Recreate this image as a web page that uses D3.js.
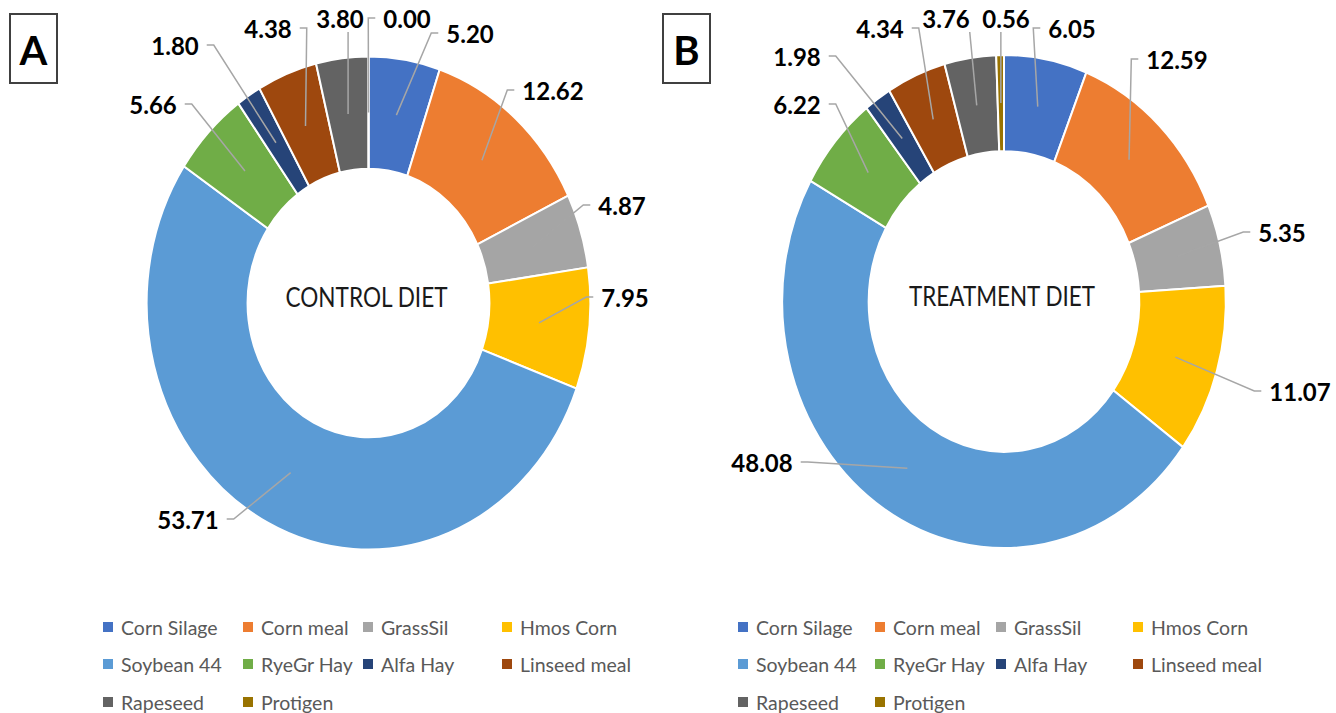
<!DOCTYPE html>
<html>
<head>
<meta charset="utf-8">
<script src="https://cdn.jsdelivr.net/npm/d3@7"></script>
<style>
  body { margin: 0; background: #fff; }
  svg { display: block; }
  text { font-family: Lato, "Open Sans", sans-serif; }
</style>
</head>
<body>
<svg id="chart" width="1336" height="713"></svg>
<script>
// ingredients, in the order excel draws them (clockwise from 12 o'clock)
var categories = ['Corn Silage', 'Corn meal', 'GrassSil', 'Hmos Corn', 'Soybean 44',
    'RyeGr Hay', 'Alfa Hay', 'Linseed meal', 'Rapeseed', 'Protigen'];
var controlValues = [5.20, 12.62, 4.87, 7.95, 53.71, 5.66, 1.80, 4.38, 3.80, 0.00];
var treatmentValues = [6.05, 12.59, 5.35, 11.07, 48.08, 6.22, 1.98, 4.34, 3.76, 0.56];
var colors = ['#4472C4', '#ED7D31', '#A5A5A5', '#FFC000', '#5B9BD5',
    '#70AD47', '#264478', '#9E480E', '#636363', '#997300'];

// where the data labels sit (page coords, label centre)
var labelPosA = [[470, 33], [553, 90], [622, 205], [625, 297], [188, 519],
    [153, 104], [175, 45], [268, 28], [340, 18], [407, 18]];
var labelPosB = [[1072, 28], [1177, 59], [1282, 232], [1300, 391], [762, 462],
    [797, 104], [797, 56], [880, 28], [946, 18], [1006, 18]];

var panels = [
    { letter: 'A', title: 'CONTROL DIET', values: controlValues, labels: labelPosA,
      cx: 368.5, cy: 303, hole: 0.545, box: 10, legendX: [108, 248, 368, 507], titleLen: 162 },
    { letter: 'B', title: 'TREATMENT DIET', values: treatmentValues, labels: labelPosB,
      cx: 1004, cy: 301.5, hole: 0.61, box: 663, legendX: [743, 880, 1001, 1138], titleLen: 186 }
];

var R = 246.5, sx = 0.9;   // the figure is squashed horizontally
var legendY = [627, 664, 702];

var svg = d3.select('#chart');

var pie = d3.pie().sort(null).value(function (d) { return d; });

panels.forEach(function (p) {
    var arc = d3.arc().innerRadius(R * p.hole).outerRadius(R);
    var arcs = pie(p.values);

    var g = svg.append('g')
        .attr('transform', 'translate(' + p.cx + ',' + p.cy + ') scale(' + sx + ',1)');

    g.selectAll('path')
        .data(arcs)
        .enter()
        .append('path')
        .attr('d', arc)
        .attr('fill', function (d, i) { return colors[i]; })
        .attr('stroke', '#fff')
        .attr('stroke-width', 2)
        .attr('vector-effect', 'non-scaling-stroke');

    // title in the hole
    svg.append('text')
        .attr('x', p.cx - 2)
        .attr('y', p.cy - 6)
        .attr('text-anchor', 'middle')
        .attr('dominant-baseline', 'central')
        .attr('font-size', 26)
        .attr('textLength', p.titleLen)
        .attr('lengthAdjust', 'spacingAndGlyphs')
        .attr('fill', '#1a1a1a')
        .text(p.title);

    // data labels + leader lines
    var lines = svg.append('g');
    var labs = svg.append('g');
    arcs.forEach(function (d, i) {
        var c = arc.centroid(d);
        var px = p.cx + sx * c[0], py = p.cy + c[1];
        var lx = p.labels[i][0], ly = p.labels[i][1];
        var t = labs.append('text')
            .attr('x', lx)
            .attr('y', ly)
            .attr('text-anchor', 'middle')
            .attr('dominant-baseline', 'central')
            .attr('font-size', 24)
            .attr('font-weight', 'bold')
            .attr('fill', '#000')
            .text(p.values[i].toFixed(2));
        var w = t.node().getComputedTextLength(), h = 20;
        var left = lx - w / 2 - 8, right = lx + w / 2 + 8;
        var top = ly - h / 2 - 4, bottom = ly + h / 2 + 4;
        var pts;
        if (px > right) pts = [[right, ly], [right + 7, ly], [px, py]];
        else if (px < left) pts = [[left, ly], [left - 7, ly], [px, py]];
        else if (py > bottom) pts = [[Math.min(Math.max(px, lx - w / 2), lx + w / 2), bottom], [px, py]];
        else pts = [[Math.min(Math.max(px, lx - w / 2), lx + w / 2), top], [px, py]];
        lines.append('path')
            .attr('d', d3.line()(pts))
            .attr('fill', 'none')
            .attr('stroke', '#a6a6a6')
            .attr('stroke-width', 1.5);
    });

    // panel letter box
    svg.append('rect')
        .attr('x', p.box)
        .attr('y', 14)
        .attr('width', 47)
        .attr('height', 69)
        .attr('fill', '#fff')
        .attr('stroke', '#404040')
        .attr('stroke-width', 2);
    svg.append('text')
        .attr('x', p.box + 23.5)
        .attr('y', 50)
        .attr('text-anchor', 'middle')
        .attr('dominant-baseline', 'central')
        .attr('font-size', 40)
        .attr('font-weight', 'bold')
        .attr('fill', '#000')
        .text(p.letter);

    // legend, 4 per row
    var leg = svg.append('g');
    categories.forEach(function (name, i) {
        var col = i % 4, row = Math.floor(i / 4);
        var x = p.legendX[col], y = legendY[row];
        leg.append('rect')
            .attr('x', x - 5)
            .attr('y', y - 5)
            .attr('width', 10)
            .attr('height', 10)
            .attr('fill', colors[i]);
        leg.append('text')
            .attr('x', x + 13)
            .attr('y', y)
            .attr('dominant-baseline', 'central')
            .attr('font-size', 19.5)
            .attr('fill', '#595959')
            .text(name);
    });
});
</script>
</body>
</html>
